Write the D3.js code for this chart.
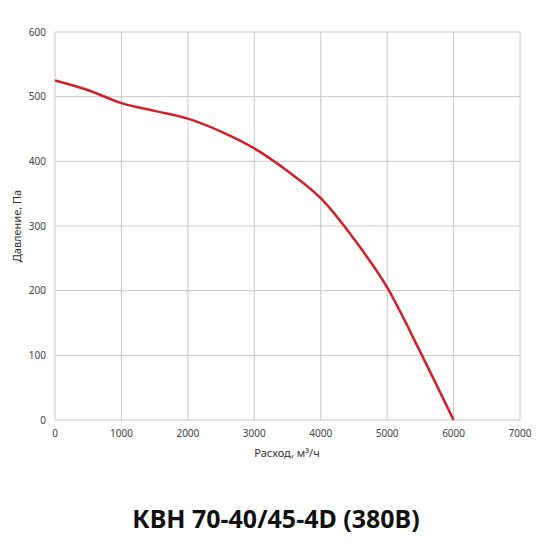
<!DOCTYPE html>
<html><head><meta charset="utf-8">
<script src="https://cdn.jsdelivr.net/npm/d3@7"></script>
<style>body{margin:0;background:#fff;font-family:"Noto Sans",sans-serif;}</style>
</head><body>
<script>
// curve data
var flow = [0, 500, 1000, 1500, 2000, 2500, 3000, 3500, 4000, 4500, 5000, 5500, 6000];
var pressure = [525, 510, 490, 478, 466, 446, 420, 385, 343, 280, 205, 105, 0];
var xTicks = [0, 1000, 2000, 3000, 4000, 5000, 6000, 7000];
var yTicks = [0, 100, 200, 300, 400, 500, 600];

var svg = d3.select("body").append("svg").attr("width", 550).attr("height", 550);

var x = d3.scaleLinear().domain([0, 7000]).range([55, 520]);
var y = d3.scaleLinear().domain([0, 600]).range([420, 32]);

//grid
svg.selectAll(".gx").data(xTicks).enter().append("line")
    .attr("x1", d => x(d)).attr("x2", d => x(d)).attr("y1", y(0)).attr("y2", y(600))
    .attr("stroke", "#c8c8c8").attr("stroke-width", 1);
svg.selectAll(".gy").data(yTicks).enter().append("line")
    .attr("x1", x(0)).attr("x2", x(7000)).attr("y1", d => y(d)).attr("y2", d => y(d))
    .attr("stroke", "#c8c8c8").attr("stroke-width", 1);

//tick labels
svg.selectAll(".tx").data(xTicks).enter().append("text")
    .attr("x", d => x(d)).attr("y", 437).attr("text-anchor", "middle")
    .attr("font-size", 10).attr("fill", "#444").text(d => d);
svg.selectAll(".ty").data(yTicks).enter().append("text")
    .attr("x", 46).attr("y", d => y(d) + 3.5).attr("text-anchor", "end")
    .attr("font-size", 10).attr("fill", "#444").text(d => d);

//axis titles
svg.append("text").attr("x", 287).attr("y", 457).attr("text-anchor", "middle")
    .attr("font-size", 11).attr("fill", "#333").text("Расход, м³/ч");
svg.append("text").attr("transform", "translate(21,226) rotate(-90)").attr("text-anchor", "middle")
    .attr("font-size", 11).attr("fill", "#333").text("Давление, Па");

//curve
var line = d3.line().x((d, i) => x(flow[i])).y(d => y(d)).curve(d3.curveMonotoneX);
svg.append("path").datum(pressure).attr("d", line)
    .attr("fill", "none").attr("stroke", "#d0202a").attr("stroke-width", 2.5);

//title
svg.append("text").attr("x", 276).attr("y", 528).attr("text-anchor", "middle")
    .attr("font-size", 25).attr("font-weight", "bold").attr("fill", "#111")
    .text("КВН 70-40/45-4D (380В)");
</script>
</body></html>
